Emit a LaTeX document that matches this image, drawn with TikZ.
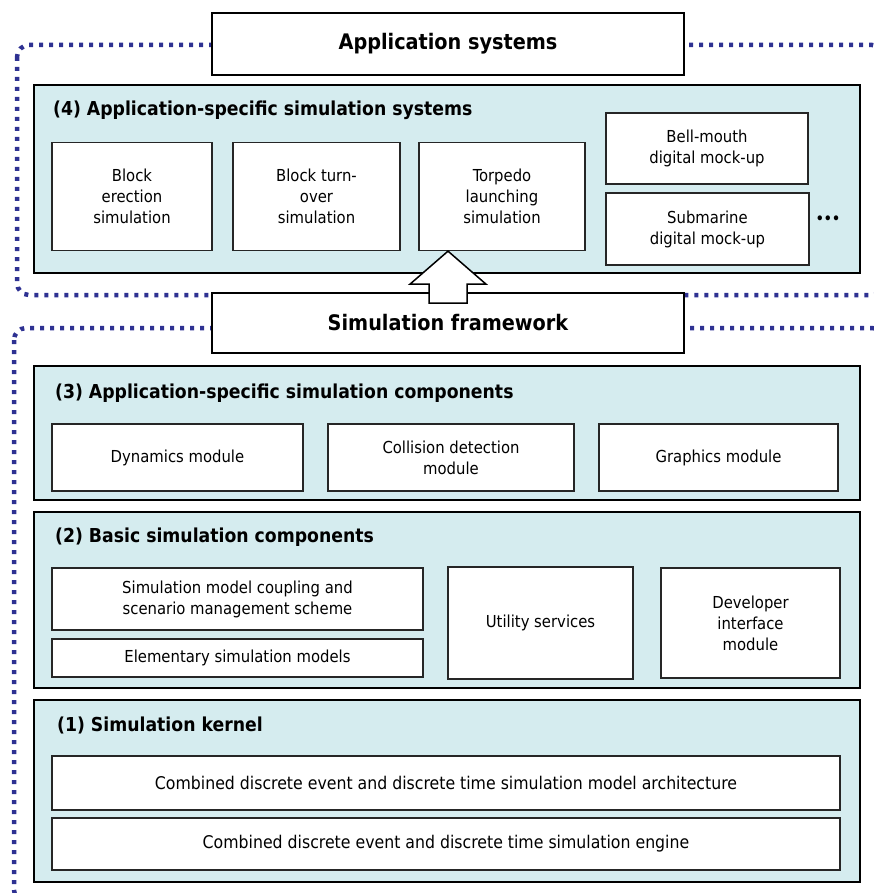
\documentclass[tikz,border=0pt]{standalone}
\usepackage{fontspec}
\setmainfont{DejaVu Sans Condensed}
\usetikzlibrary{calc}
\definecolor{layerfill}{HTML}{D5ECEF}
\definecolor{dotblue}{HTML}{2E3192}
\begin{document}
\begin{tikzpicture}[x=1pt,y=-1pt,
  layer/.style={draw=black, line width=2.4pt, fill=layerfill, inner sep=0pt},
  inbox/.style={draw=black!85, line width=1.3pt, fill=white, align=center, font=\fontsize{16.5}{21}\selectfont, inner sep=0pt},
  kernbox/.style={inbox, font=\fontsize{17.5}{21}\selectfont},
  headbox/.style={draw=black, line width=2.2pt, fill=white, inner sep=0pt, font=\bfseries\fontsize{21.4}{24}\selectfont},
  ltitle/.style={anchor=west, font=\bfseries\fontsize{19.2}{22}\selectfont, inner sep=0pt},
  dotframe/.style={draw=dotblue, line width=4.5pt, dash pattern=on 4pt off 6pt, rounded corners=12pt},
  bigarrow/.style={draw=black, line width=1.5pt, fill=white, line join=miter}]
\useasboundingbox (0,0) rectangle (874,893);

% dotted frames
\draw[dotframe] (17,45) rectangle (884,295);
\draw[dotframe] (14,328) rectangle (884,902);

% header boxes
\node[headbox, minimum width=472pt, minimum height=62pt] (app) at (448,44) {Application systems};
\node[headbox, minimum width=472pt, minimum height=60pt] (fw) at (448,323) {Simulation framework};

% layers
\node[layer, minimum width=826pt, minimum height=188pt] (l4) at (447,179) {};
\node[layer, minimum width=826pt, minimum height=134pt] (l3) at (447,433) {};
\node[layer, minimum width=826pt, minimum height=176pt] (l2) at (447,600) {};
\node[layer, minimum width=826pt, minimum height=182pt] (l1) at (447,791) {};

\node[ltitle] (t4) at (53,110) {(4) Application-specific simulation systems};
\node[ltitle] (t3) at (55,393) {(3) Application-specific simulation components};
\node[ltitle] (t2) at (55,537) {(2) Basic simulation components};
\node[ltitle] (t1) at (57,725) {(1) Simulation kernel};

% layer 4
\node[inbox, minimum width=160pt, minimum height=108pt] (be) at (132,196.5) {Block\\erection\\simulation};
\node[inbox, minimum width=167pt, minimum height=108pt] (bt) at (316.5,196.5) {Block turn-\\over\\simulation};
\node[inbox, minimum width=166pt, minimum height=108pt] (tl) at (502,196.5) {Torpedo\\launching\\simulation};
\node[inbox, minimum width=202pt, minimum height=71pt] (bm) at (707,148.5) {Bell-mouth\\digital mock-up};
\node[inbox, minimum width=203pt, minimum height=72pt] (sm) at (707.5,229) {Submarine\\digital mock-up};
\node[inner sep=0pt, font=\bfseries\fontsize{14}{16}\selectfont] (more) at (828,220) {•••};

% layer 3
\node[inbox, minimum width=251pt, minimum height=67pt] (dyn) at (177.5,457.5) {Dynamics module};
\node[inbox, minimum width=246pt, minimum height=67pt] (col) at (451,457.5) {Collision detection\\module};
\node[inbox, minimum width=239pt, minimum height=67pt] (gra) at (718.5,457.5) {Graphics module};

% layer 2
\node[inbox, minimum width=371pt, minimum height=62pt] (coup) at (237.5,599) {Simulation model coupling and\\scenario management scheme};
\node[inbox, minimum width=371pt, minimum height=38pt] (elem) at (237.5,658) {Elementary simulation models};
\node[inbox, minimum width=185pt, minimum height=112pt] (util) at (540.5,623) {Utility services};
\node[inbox, minimum width=179pt, minimum height=110pt] (dev) at (750.5,623) {Developer\\interface\\module};

% layer 1
\node[kernbox, minimum width=788pt, minimum height=54pt] (arch) at (446,783) {Combined discrete event and discrete time simulation model architecture};
\node[kernbox, minimum width=788pt, minimum height=52pt] (eng) at (446,844) {Combined discrete event and discrete time simulation engine};

% hollow arrow from framework to application systems
\coordinate (tip) at (fw.north |- tl.south);
\draw[bigarrow] (tip) -- ++(38,33) -- ++(-19,0) -- ++(0,19) -- ++(-38,0) -- ++(0,-19) -- ++(-19,0) -- cycle;
\end{tikzpicture}
\end{document}
